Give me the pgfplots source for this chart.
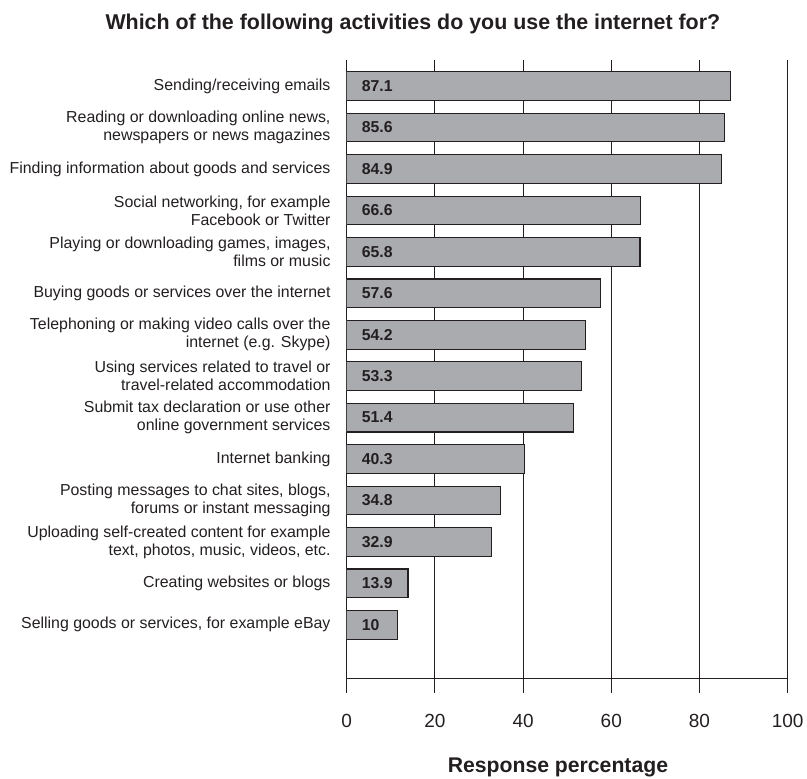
\documentclass[border=0pt]{standalone}
\usepackage{fontspec}
\setmainfont{Liberation Sans}
\usepackage{pgfplots}
\usepackage{pgfplotstable}
\pgfplotsset{compat=1.18}
\definecolor{txt}{RGB}{35,31,32}
\definecolor{barfill}{RGB}{170,171,175}
\pgfplotstableread{
y val lab
13 87.1 87.1
12 85.6 85.6
11 84.9 84.9
10 66.6 66.6
9 66.5 65.8
8 57.6 57.6
7 54.2 54.2
6 53.3 53.3
5 51.4 51.4
4 40.3 40.3
3 34.8 34.8
2 32.9 32.9
1 13.9 13.9
0 11.5 10
}\datatable
\begin{document}
\begin{tikzpicture}
\path[use as bounding box] (-346.7pt,-100.3pt) rectangle (460.3pt,678.7pt);
\begin{axis}[
  at={(0pt,0pt)}, anchor=south west,
  scale only axis, width=441pt, height=618.7pt,
  xmin=0, xmax=100, ymin=-1.30, ymax=13.63,
  axis x line*=bottom, axis y line*=left,
  axis line style={txt, line width=1.3pt},
  xmajorgrids, grid style={txt, line width=0.9pt},
  xtick={0,20,40,60,80,100},
  xtick align=outside, xtick pos=bottom,
  major tick length=14pt,
  x tick style={txt, line width=1pt},
  /pgf/number format/assume math mode=true,
  xticklabel style={font=\fontsize{19}{19}\selectfont, text=txt, anchor=north, inner sep=0pt, yshift=-21pt},
  ytick={0,...,13},
  y tick style={draw=none},
  yticklabels={
    Selling goods or services{,} for example eBay,
    Creating websites or blogs,
    Uploading self-created content for example\\text{,} photos{,} music{,} videos{,} etc.,
    Posting messages to chat sites{,} blogs{,}\\forums or instant messaging,
    Internet banking,
    Submit tax declaration or use other\\online government services,
    Using services related to travel or\\travel-related accommodation,
    Telephoning or making video calls over the\\internet (e.g. Skype),
    Buying goods or services over the internet,
    Playing or downloading games{,} images{,}\\films or music,
    Social networking{,} for example\\Facebook or Twitter,
    Finding information about goods and services,
    Reading or downloading online news{,}\\newspapers or news magazines,
    Sending/receiving emails
  },
  yticklabel style={align=right, font=\fontsize{15.9}{18}\selectfont, text=txt, inner sep=0pt, xshift=-16pt},
  every axis title/.style={at={(axis description cs:0.150,1)}, anchor=base, yshift=30pt, font=\bfseries\fontsize{21.4}{21.4}\selectfont, text=txt},
  title={Which of the following activities do you use the internet for?},
  every axis x label/.style={at={(axis description cs:0.479,0)}, anchor=base, yshift=-94pt, font=\bfseries\fontsize{21.2}{21.2}\selectfont, text=txt},
  xlabel={Response percentage},
]
\addplot[xbar, bar width=28.7pt, fill=barfill, draw=txt, line width=1.1pt] table[x=val, y=y] {\datatable};
\addplot[draw=none, mark=none, nodes near coords, point meta=explicit symbolic,
  nodes near coords style={anchor=west, xshift=15pt, inner sep=0pt, font=\bfseries\fontsize{15.8}{15.8}\selectfont, text=txt}]
  table[x expr=0, y=y, meta=lab] {\datatable};
\end{axis}
\end{tikzpicture}
\end{document}
